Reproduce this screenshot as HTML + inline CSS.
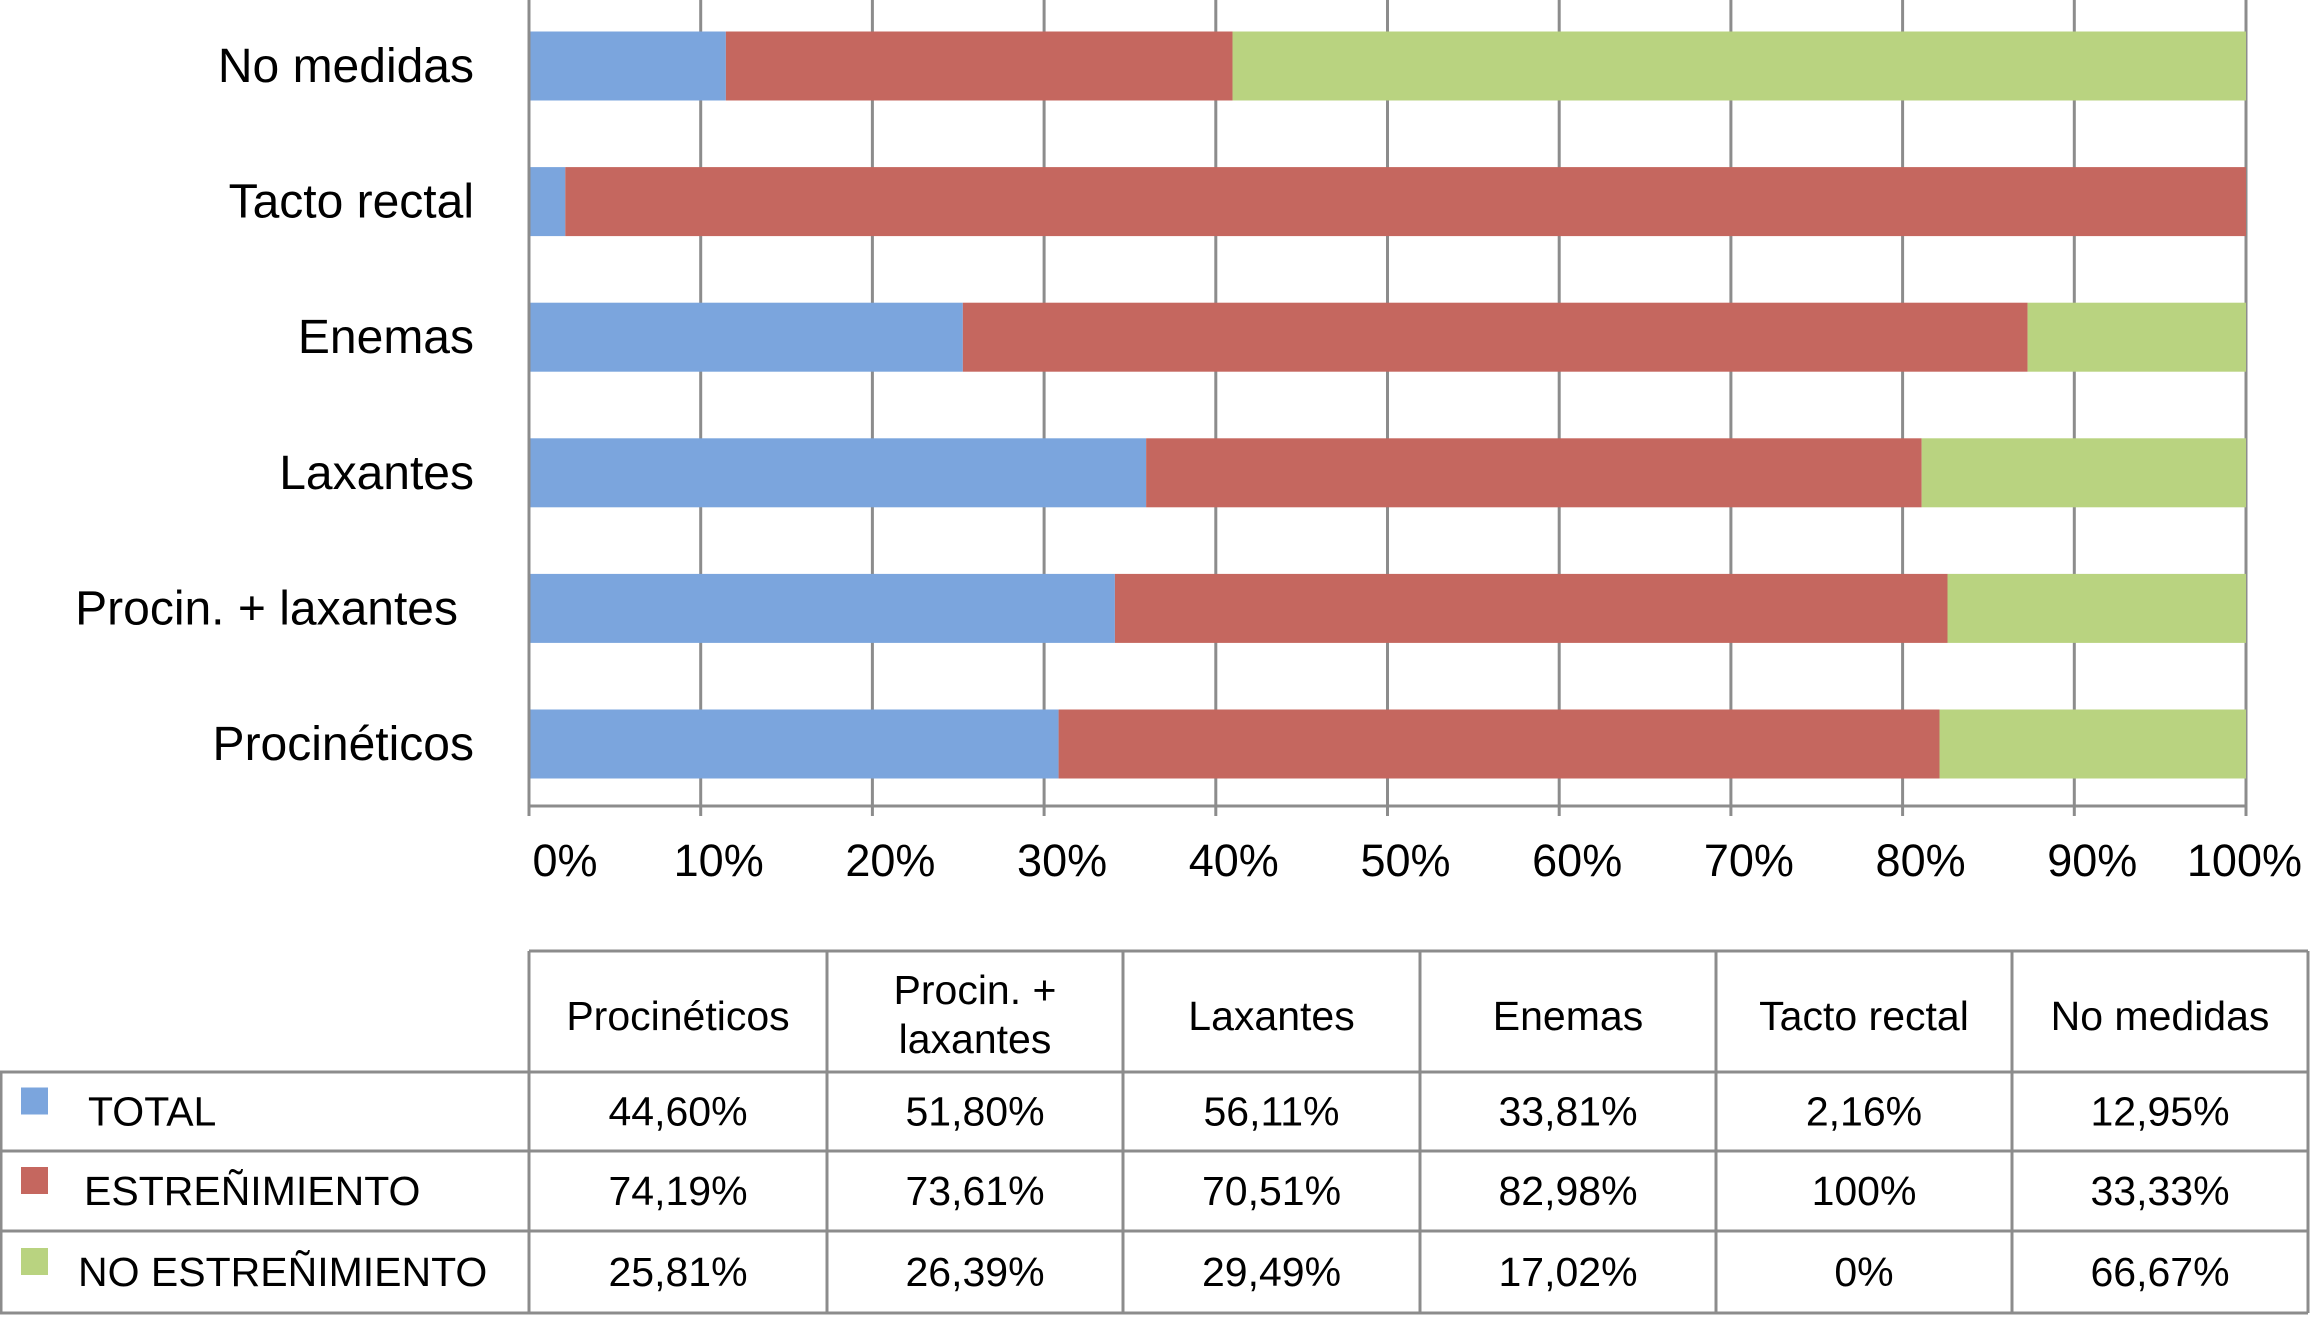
<!DOCTYPE html>
<html><head><meta charset="utf-8"><style>
html,body{margin:0;padding:0;background:#fff;}
svg{display:block;font-family:"Liberation Sans",sans-serif;}
</style></head><body>
<svg id="chart" width="2311" height="1321" viewBox="0 0 2311 1321"></svg>
<script>
const categories=["Procinéticos","Procin. + laxantes","Laxantes","Enemas","Tacto rectal","No medidas"];
const headerLabels=[["Procinéticos"],["Procin. +","laxantes"],["Laxantes"],["Enemas"],["Tacto rectal"],["No medidas"]];
const seriesNames=["TOTAL","ESTREÑIMIENTO","NO ESTREÑIMIENTO"];
const totalVals=[44.60,51.80,56.11,33.81,2.16,12.95];
const estrVals=[74.19,73.61,70.51,82.98,100,33.33];
const noEstrVals=[25.81,26.39,29.49,17.02,0,66.67];
const printedTotal=["44,60%","51,80%","56,11%","33,81%","2,16%","12,95%"];
const printedEstr=["74,19%","73,61%","70,51%","82,98%","100%","33,33%"];
const printedNo=["25,81%","26,39%","29,49%","17,02%","0%","66,67%"];
const tickVals=[0,10,20,30,40,50,60,70,80,90,100];
const colors=["#7ba5dd","#c5675f","#b9d380"];
const svg=document.getElementById('chart');
const NS="http://www.w3.org/2000/svg";
function mk(tag,attrs,parent){const e=document.createElementNS(NS,tag);for(const k in attrs)e.setAttribute(k,attrs[k]);(parent||svg).appendChild(e);return e;}
const x0=529,x1=2246;
const xS=p=>x0+(x1-x0)*p/100;
const yC=i=>744-i*135.6;
const barH=69;
tickVals.forEach(t=>{
 const l=mk('line',{x1:xS(t),x2:xS(t),y1:0,y2:806,stroke:'#8c8c8c','stroke-width':3});
 
 
});
const series=[totalVals,estrVals,noEstrVals];
categories.forEach((c,i)=>{
 const sum=totalVals[i]+estrVals[i]+noEstrVals[i];
 let acc=0;
 series.forEach((s,k)=>{
  const p=s[i]/sum*100;
  const r=mk('rect',{x:xS(acc),y:yC(i)-barH/2,width:Math.max(0,xS(acc+p)-xS(acc)),height:barH,fill:colors[k]});
  
  
  acc+=p;
 });
 const t=mk('text',{x:i===1?458:474,y:yC(i)+16,'text-anchor':'end','font-size':48,fill:'#000'});
 t.textContent=c;
 
 
});
const ax=mk('line',{x1:x0,x2:x1,y1:806,y2:806,stroke:'#8c8c8c','stroke-width':3});


const ay=mk('line',{x1:x0,x2:x0,y1:0,y2:806,stroke:'#8c8c8c','stroke-width':3});


tickVals.forEach(t=>{
 const tk=mk('line',{x1:xS(t),x2:xS(t),y1:806,y2:816,stroke:'#8c8c8c','stroke-width':3});
 
 
 const lb=mk('text',{x:t===100?2302:t===0?xS(t)+36:xS(t)+18,y:876,'text-anchor':t===100?'end':'middle','font-size':45});
 lb.textContent=t+'%';
 
 
});
const colX=[0,529,827,1123,1420,1716,2012,2308];
const rowY=[951,1072,1151,1231,1313];
const g='#8c8c8c';
const tl=(a,b,c,d)=>{const l=mk('line',{x1:a,y1:b,x2:c,y2:d,stroke:g,'stroke-width':3});};
tl(529,951,2308,951);
for(let r=1;r<rowY.length;r++) tl(0,rowY[r],2308,rowY[r]);
for(let c=1;c<colX.length;c++) tl(colX[c],951,colX[c],1313);
tl(1,1072,1,1313);
headerLabels.forEach((h,i)=>{
 const cx=(colX[i+1]+colX[i+2])/2;
 h.forEach((s,j)=>{
  const t=mk('text',{x:cx,y:h.length===1?1030:1004+j*49,'text-anchor':'middle','font-size':41});
  t.textContent=s;
  
  
 });
});
const printed=[printedTotal,printedEstr,printedNo];
seriesNames.forEach((n,k)=>{
 const yc=(rowY[k+1]+rowY[k+2])/2;
 const sw=mk('rect',{x:21,y:yc-24,width:27,height:27,fill:colors[k]});
 
 
 const t=mk('text',{x:k===0?88:k===1?84:78,y:yc+14,'font-size':41});
 t.textContent=n;
 
 
 printed[k].forEach((v,i)=>{
  const tv=mk('text',{x:(colX[i+1]+colX[i+2])/2,y:yc+14,'text-anchor':'middle','font-size':41});
  tv.textContent=v;
  
  
 });
});
</script>
</body></html>
